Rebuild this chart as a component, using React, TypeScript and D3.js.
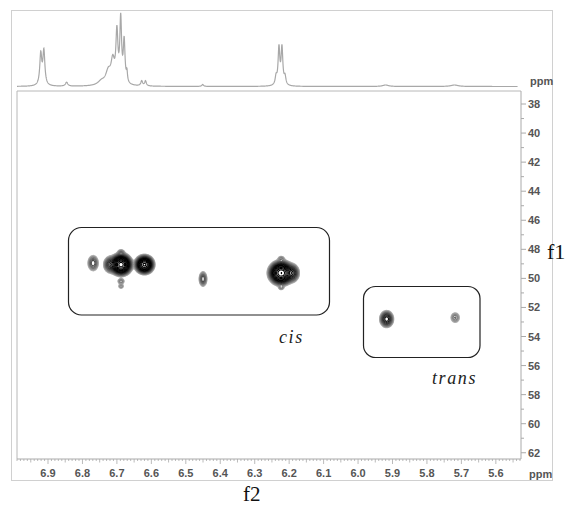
import React, { useMemo } from "react";
import * as d3 from "d3";

// ---------- axis ticks ----------
const f1Major = [38, 40, 42, 44, 46, 48, 50, 52, 54, 56, 58, 60, 62];
const f2Major = [6.9, 6.8, 6.7, 6.6, 6.5, 6.4, 6.3, 6.2, 6.1, 6.0, 5.9, 5.8, 5.7, 5.6];

// ---------- 1D projection (f2) peak list: position ppm, height, half-width ppm ----------
const specPos = [6.921, 6.912, 6.846, 6.745, 6.725, 6.712, 6.700, 6.689, 6.679, 6.671, 6.628, 6.617, 6.451, 6.238, 6.2296, 6.2209, 6.212, 5.92, 5.72];
const specHeight = [31, 34, 4, 4, 13, 22, 50, 63, 42, 10, 5, 5, 2, 8, 37, 37, 8, 1.5, 1.5];
const specWidth = [0.0035, 0.0035, 0.004, 0.012, 0.009, 0.006, 0.0035, 0.003, 0.003, 0.002, 0.003, 0.003, 0.003, 0.003, 0.003, 0.003, 0.003, 0.01, 0.012];

// ---------- 2D cross peaks: f2 ppm, f1 ppm, amplitude, sigma f2 (ppm), sigma f1 (ppm) ----------
const peakF2 = [6.769, 6.72, 6.688, 6.688, 6.688, 6.688, 6.62, 6.45, 6.223, 6.19, 6.223, 6.223, 5.917, 5.718];
const peakF1 = [48.95, 49.05, 49.05, 48.21, 50.2, 50.55, 49.05, 50.04, 49.63, 49.63, 48.65, 50.64, 52.8, 52.7];
const peakAmp = [0.3, 0.45, 4, 0.15, 0.15, 0.12, 3, 0.3, 3.5, 0.55, 0.12, 0.12, 0.7, 0.16];
const peakW2 = [0.008, 0.009, 0.0122, 0.006, 0.006, 0.005, 0.0108, 0.006, 0.0142, 0.009, 0.006, 0.005, 0.009, 0.008];
const peakW1 = [0.28, 0.27, 0.285, 0.12, 0.12, 0.1, 0.25, 0.27, 0.32, 0.28, 0.12, 0.1, 0.26, 0.22];

// contour levels (geometric)
const contourLevels = [0.05, 0.0625, 0.078, 0.098, 0.122, 0.153, 0.19, 0.24, 0.3, 0.37, 0.47, 0.58, 0.73, 0.91, 1.14, 1.42, 1.78, 2.22, 2.78, 3.47];

const W = 568;
const H = 508;
const L = 17, R = 521, T = 91, B = 459;

export default function App() {
  const x = d3.scaleLinear().domain([6.99, 5.527]).range([L, R]);
  const y = d3.scaleLinear().domain([37.105, 62.43]).range([T, B]);
  const ys = d3.scaleLinear().domain([0, 100]).range([86.5, -13.5]);

  const specPath = useMemo(() => {
    const pts: [number, number][] = [];
    for (let v = 6.99; v >= 5.537; v -= 0.0005) {
      let s = 0;
      for (let k = 0; k < specPos.length; k++) {
        const d = (v - specPos[k]) / specWidth[k];
        s += specHeight[k] / (1 + d * d);
      }
      pts.push([v, s]);
    }
    return d3.line<[number, number]>().x(d => x(d[0])).y(d => ys(d[1]))(pts) || "";
  }, []);

  const contourPaths = useMemo(() => {
    const nx = R - L, ny = B - T;
    const vals = new Float64Array(nx * ny);
    const pk = peakF2.map((_, k) => ({
      cx: x(peakF2[k]),
      cy: y(peakF1[k]),
      sx: Math.abs(x(peakF2[k] + peakW2[k]) - x(peakF2[k])),
      sy: Math.abs(y(peakF1[k] + peakW1[k]) - y(peakF1[k])),
      a: peakAmp[k],
    }));
    for (let j = 0; j < ny; j++) {
      const py = T + j + 0.5;
      for (let i = 0; i < nx; i++) {
        const px = L + i + 0.5;
        let s = 0;
        for (const p of pk) {
          const dx = (px - p.cx) / p.sx, dy = (py - p.cy) / p.sy;
          const e = dx * dx + dy * dy;
          if (e < 40) s += p.a * Math.exp(-0.5 * e);
        }
        vals[j * nx + i] = s;
      }
    }
    const cs = d3.contours().size([nx, ny]).thresholds(contourLevels)(Array.from(vals));
    const path = d3.geoPath(d3.geoIdentity().translate([L, T]) as any);
    const col = d3.interpolateRgb("#b8b8b8", "#000000");
    return cs.map((c, idx) => ({
      d: path(c as any) || "",
      color: col(Math.min(1, idx / 12)),
    }));
  }, []);

  const f2Minor = d3.range(0, 147).map(i => +(6.99 - i * 0.01).toFixed(2)).filter(v => v >= 5.53);

  const labelStyle: React.CSSProperties = { fontFamily: "Liberation Sans, Arial, sans-serif", fontSize: 11, fontWeight: "bold", fill: "#555" };
  const italicStyle: React.CSSProperties = { fontFamily: "Liberation Serif, Times New Roman, serif", fontStyle: "italic", fontSize: 18, letterSpacing: 1.6, fill: "#222" };

  return (
    <svg width={W} height={H} style={{ position: "absolute", left: 0, top: 0, background: "#fff" }}>
      {/* outer frame */}
      <rect x={11.5} y={10.5} width={541} height={470} fill="none" stroke="#d0d0d0" strokeWidth={1} />
      {/* 1D spectrum */}
      <path d={specPath} fill="none" stroke="#a8a8a8" strokeWidth={1.2} />
      <text x={530} y={85} style={labelStyle}>ppm</text>
      {/* plot box */}
      <path d={`M${R},${T}H${L}V${B}`} fill="none" stroke="#b8b8b8" strokeWidth={1} />
      <line x1={L} x2={R} y1={B} y2={B} stroke="#aaa" />
      <line x1={R} x2={R} y1={T} y2={B} stroke="#aaa" />
      {/* contours */}
      <g fill="none" strokeWidth={1.1}>
        {contourPaths.map((c, i) => (
          <path key={i} d={c.d} stroke={c.color} />
        ))}
      </g>
      {/* right axis ticks */}
      {d3.range(38, 63).map(v => (
        <line key={v} x1={R} x2={R + (v % 2 === 0 ? 5 : 3)} y1={y(v)} y2={y(v)} stroke="#aaa" />
      ))}
      {f1Major.map(v => (
        <text key={v} x={528} y={y(v) + 4} style={labelStyle}>{v}</text>
      ))}
      {/* bottom axis ticks */}
      {f2Minor.map((v, i) => {
        const m = Math.round(v * 100);
        const len = m % 10 === 0 ? 5 : m % 5 === 0 ? 3.5 : 2;
        return <line key={i} x1={x(v)} x2={x(v)} y1={B} y2={B + len} stroke="#aaa" strokeWidth={0.8} />;
      })}
      {f2Major.map(v => (
        <text key={v} x={x(v)} y={477} textAnchor="middle" style={labelStyle}>{v.toFixed(1)}</text>
      ))}
      <text x={529} y={478} style={labelStyle}>ppm</text>
      {/* region boxes */}
      <rect x={68.5} y={227.5} width={261} height={87.5} rx={13} fill="none" stroke="#222" strokeWidth={1.2} />
      <rect x={363.5} y={286.5} width={116.5} height={71} rx={12} fill="none" stroke="#222" strokeWidth={1.2} />
      <text x={279} y={343} style={italicStyle}>cis</text>
      <text x={432} y={384} style={italicStyle}>trans</text>
      {/* axis titles */}
      <text x={547} y={259} style={{ fontFamily: "Liberation Serif, Times New Roman, serif", fontSize: 22, fill: "#111" }}>f1</text>
      <text x={243} y={501} style={{ fontFamily: "Liberation Serif, Times New Roman, serif", fontSize: 21, fill: "#111" }}>f2</text>
    </svg>
  );
}
